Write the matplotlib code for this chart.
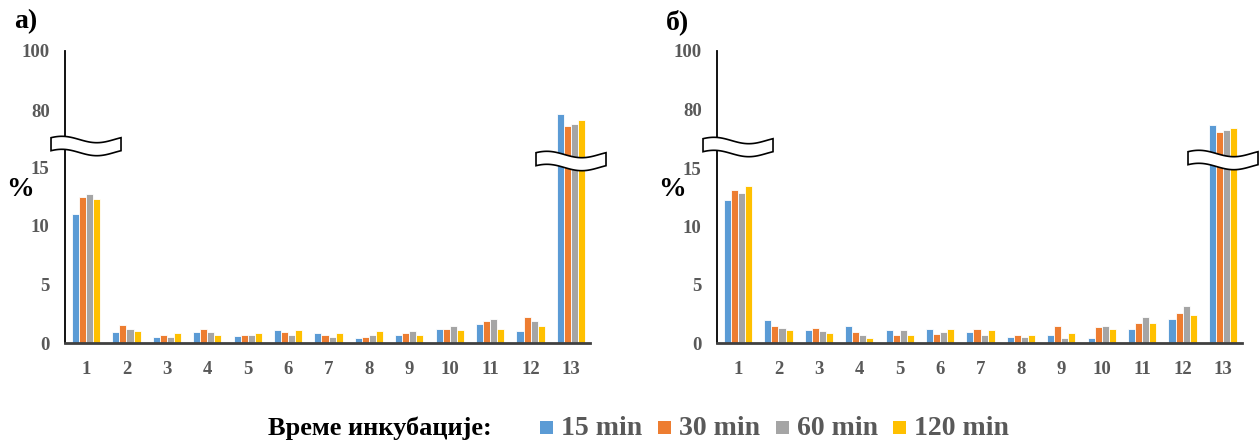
import numpy as np
import matplotlib.pyplot as plt
from matplotlib.patches import Polygon, Rectangle

plt.rcParams['font.family'] = ['Liberation Serif', 'DejaVu Serif']
plt.rcParams['font.weight'] = 'bold'

cats = [str(i) for i in range(1, 14)]
series = ['15 min', '30 min', '60 min', '120 min']
colors = ['#5B9BD5', '#ED7D31', '#A5A5A5', '#FFC000']

# panel a)
a_15 = [11.0, 0.96, 0.57, 0.96, 0.62, 1.13, 0.90, 0.45, 0.74, 1.25, 1.65, 1.07, 78.7]
a_30 = [12.47, 1.56, 0.74, 1.25, 0.74, 0.96, 0.68, 0.57, 0.85, 1.25, 1.87, 2.27, 74.8]
a_60 = [12.7, 1.25, 0.57, 0.96, 0.68, 0.68, 0.57, 0.74, 1.05, 1.45, 2.07, 1.87, 75.4]
a_120 = [12.28, 1.05, 0.85, 0.68, 0.85, 1.15, 0.85, 1.05, 0.68, 1.13, 1.25, 1.45, 76.8]
# panel б)
b_15 = [12.28, 1.96, 1.13, 1.45, 1.13, 1.25, 0.94, 0.57, 0.74, 0.45, 1.25, 2.07, 74.8]
b_30 = [13.1, 1.45, 1.33, 0.96, 0.74, 0.82, 1.25, 0.68, 1.45, 1.36, 1.77, 2.56, 72.5]
b_60 = [12.87, 1.33, 1.05, 0.68, 1.13, 0.94, 0.74, 0.57, 0.45, 1.45, 2.27, 3.18, 73.3]
b_120 = [13.5, 1.13, 0.85, 0.48, 0.74, 1.25, 1.13, 0.74, 0.85, 1.25, 1.77, 2.46, 73.9]

yticks = [0, 5, 10, 15, 80, 100]

W, H = 1260, 444
fig = plt.figure(figsize=(W / 100, H / 100), dpi=100)


def make_scale(p80):
    # broken axis: 0-15 stretched, 15-70 squeezed, 70+ at ~3 px per unit
    xs = [0, 15, 70, 110]
    ps = [0, 176, p80 - 10 * 2.97, p80 + 30 * 2.97]
    fwd = lambda v: np.interp(v, xs, ps)
    inv = lambda p: np.interp(p, ps, xs)
    return fwd, inv


def panel(left, data, label, p80, breaks):
    ax = fig.add_axes([left / W, (H - 343.3) / H, 525 / W, 292.6 / H])
    fwd, inv = make_scale(p80)
    ax.set_yscale('function', functions=(fwd, inv))
    x = np.arange(1, 14)
    w = 0.175
    for i, (vals, c) in enumerate(zip(data, colors)):
        ax.bar(x + (i - 1.5) * w, vals, w, color=c, edgecolor='white', linewidth=0.6)
    ax.set_xlim(0.48, 13.47)
    ax.set_ylim(0, float(inv(292.6)))
    ax.set_yticks(yticks)
    ax.set_yticklabels([str(t) for t in yticks])
    ax.yaxis.set_minor_locator(plt.NullLocator())
    ax.set_xticks(x)
    ax.set_xticklabels(cats)
    ax.tick_params(length=0, labelsize=13.5, colors='#595959')
    ax.tick_params(axis='y', pad=11)
    ax.tick_params(axis='x', pad=13)
    for s in ['top', 'right']:
        ax.spines[s].set_visible(False)
    ax.spines['left'].set_color('black')
    ax.spines['left'].set_linewidth(1.3)
    ax.spines['bottom'].set_color('#404040')
    ax.spines['bottom'].set_linewidth(2)
    fig.text((left - 45) / W, (H - 189) / H, '%', fontsize=20, ha='center', va='center')
    fig.text((left - 51) / W, (H - 22) / H, label, fontsize=20, ha='left', va='center')
    # break marks
    for xc, yc in breaks:
        px, _ = ax.transData.transform((xc, 0))
        py = H - yc
        t = np.linspace(0, 1, 40)
        wave = 3.2 * np.sin(2 * np.pi * t + 0.6)
        xs_ = px - 35 + 70 * t
        top = py + 6.5 + wave
        bot = py - 6.5 + wave
        pts = np.vstack([np.column_stack([xs_, top]), np.column_stack([xs_[::-1], bot[::-1]])])
        fig.add_artist(Polygon(pts, closed=True, facecolor='white', edgecolor='black',
                               linewidth=1.2, transform=None, zorder=5))
    return ax


panel(65, [a_15, a_30, a_60, a_120], 'а)', 233.0, [(1, 146), (13, 161)])
panel(717, [b_15, b_30, b_60, b_120], 'б)', 234.5, [(1, 147), (13, 160)])

# legend
fig.text(268 / W, (H - 428) / H, 'Време инкубације:', fontsize=19, ha='left', va='center',
         color='black')
xpos = [540, 658, 776, 893]
for xp, s, c in zip(xpos, series, colors):
    fig.add_artist(Rectangle((xp / W, (H - 434) / H), 13 / W, 13 / H, facecolor=c,
                             edgecolor='none', transform=fig.transFigure))
    fig.text((xp + 21) / W, (H - 428) / H, s, fontsize=20, ha='left', va='center',
             color='#595959')

fig.savefig('out.png', dpi=100)
